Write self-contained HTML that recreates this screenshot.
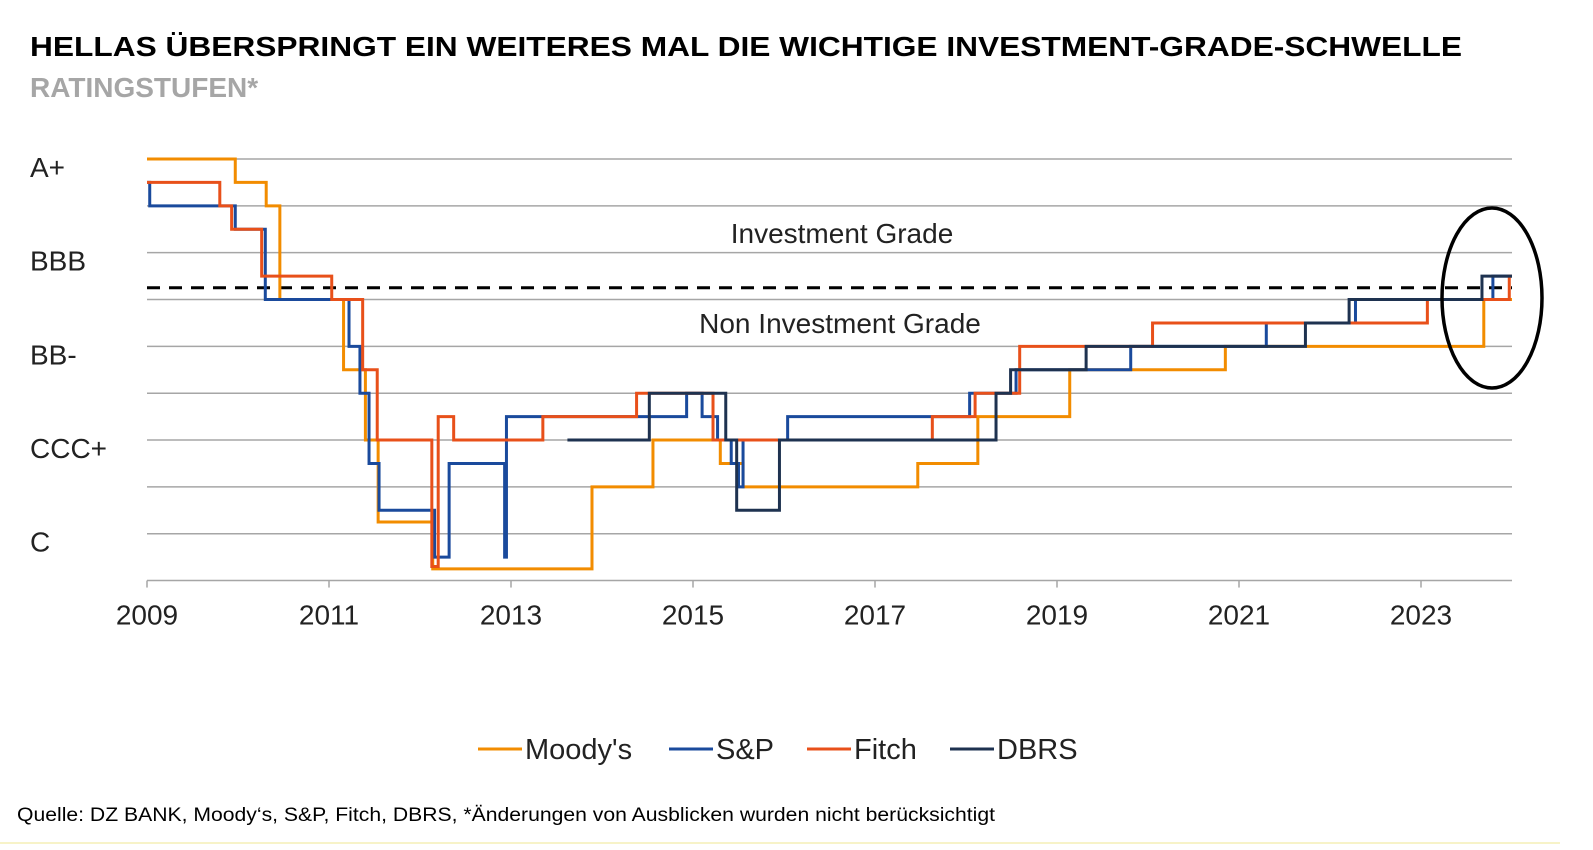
<!DOCTYPE html>
<html><head><meta charset="utf-8"><style>
body{margin:0;background:#fff;width:1593px;height:845px;overflow:hidden;font-family:"Liberation Sans",Arial,sans-serif}
</style></head><body>
<svg width="1593" height="845" xmlns="http://www.w3.org/2000/svg" style="font-family:'Liberation Sans',Arial,sans-serif">
<text x="30" y="56" font-size="28" font-weight="bold" fill="#000" textLength="1432" lengthAdjust="spacingAndGlyphs">HELLAS ÜBERSPRINGT EIN WEITERES MAL DIE WICHTIGE INVESTMENT-GRADE-SCHWELLE</text>
<text x="30" y="97" font-size="28" font-weight="bold" fill="#a6a6a6">RATINGSTUFEN*</text>
<g id="grid"></g>
<g id="ylabels"></g>
<g id="xaxis"></g>
<line id="thresh" stroke="#000" stroke-width="3" stroke-dasharray="13,9"/>
<text x="842" y="243" font-size="28" text-anchor="middle" fill="#222">Investment Grade</text>
<text x="840" y="333" font-size="28" text-anchor="middle" fill="#222">Non Investment Grade</text>
<g id="series"></g>
<ellipse cx="1492" cy="298" rx="50" ry="90" fill="none" stroke="#000" stroke-width="3.5"/>
<g>
<line x1="478" y1="749" x2="522" y2="749" stroke="#f28c00" stroke-width="3"/>
<text x="525" y="759" font-size="29" fill="#222">Moody's</text>
<line x1="669" y1="749" x2="713" y2="749" stroke="#1a4a9c" stroke-width="3"/>
<text x="716" y="759" font-size="29" fill="#222">S&amp;P</text>
<line x1="807" y1="749" x2="851" y2="749" stroke="#e8501a" stroke-width="3"/>
<text x="854" y="759" font-size="29" fill="#222">Fitch</text>
<line x1="950" y1="749" x2="994" y2="749" stroke="#1e3250" stroke-width="3"/>
<text x="997" y="759" font-size="29" fill="#222">DBRS</text>
</g>
<text x="17" y="821" font-size="19" fill="#000" textLength="978" lengthAdjust="spacingAndGlyphs">Quelle: DZ BANK, Moody‘s, S&amp;P, Fitch, DBRS, *Änderungen von Ausblicken wurden nicht berücksichtigt</text>
<line x1="0" y1="843" x2="1560" y2="843" stroke="#f7f3c8" stroke-width="2"/>
</svg>
<script>
const yearTicks = [2009, 2011, 2013, 2015, 2017, 2019, 2021, 2023];
const levelLabels = ["A+", "BBB", "BB-", "CCC+", "C"];
const levelLabelValues = [0, 4, 8, 12, 16];
const thresholdLevel = 5.5;
const moodysDates = [2009.0, 2009.97, 2010.31, 2010.46, 2011.16, 2011.40, 2011.54, 2012.14, 2013.89, 2014.56, 2015.30, 2015.55, 2017.47, 2018.13, 2019.14, 2020.85, 2023.69];
const moodysLevels = [0, 1, 2, 6, 9, 12, 15.5, 17.5, 14, 12, 13, 14, 13, 11, 9, 8, 6];
const spDates = [2009.0, 2009.03, 2009.97, 2010.30, 2011.22, 2011.34, 2011.44, 2011.55, 2012.16, 2012.32, 2012.93, 2012.95, 2014.93, 2015.10, 2015.27, 2015.42, 2015.50, 2015.55, 2016.04, 2018.04, 2018.55, 2019.81, 2021.30, 2022.28, 2023.79];
const spLevels = [1, 2, 3, 6, 8, 10, 13, 15, 17, 13, 17, 11, 10, 11, 12, 13, 14, 12, 11, 10, 9, 8, 7, 6, 5];
const fitchDates = [2009.0, 2009.80, 2009.93, 2010.26, 2011.03, 2011.37, 2011.53, 2012.13, 2012.20, 2012.37, 2013.35, 2014.38, 2015.22, 2017.63, 2018.10, 2018.59, 2020.05, 2023.07, 2023.97];
const fitchLevels = [1, 2, 3, 5, 6, 9, 12, 17.4, 11, 12, 11, 10, 12, 11, 10, 8, 7, 6, 5];
const dbrsDates = [2013.62, 2014.52, 2015.36, 2015.48, 2015.95, 2018.33, 2018.49, 2019.32, 2021.73, 2022.21, 2023.67];
const dbrsLevels = [12, 10, 12, 15, 12, 10, 9, 8, 7, 6, 5];

const NS = "http://www.w3.org/2000/svg";
const X0 = 147, PXY = 91, XEND = 2024.0, Y0 = 159, PXL = 23.42;
function xs(yr){ return X0 + (yr - 2009) * PXY; }
function ys(l){ return Y0 + l * PXL; }
function mk(tag, attrs, parent){ const e = document.createElementNS(NS, tag); for (const k in attrs) e.setAttribute(k, attrs[k]); parent.appendChild(e); return e; }

const grid = document.getElementById('grid');
for (let l = 0; l <= 16; l += 2) {
  const g = mk('line', {x1: xs(2009), x2: xs(XEND), y1: ys(l), y2: ys(l), stroke: '#a6a6a6', 'stroke-width': 1.5}, grid);
  
  
}
const yl = document.getElementById('ylabels');
levelLabels.forEach((t, i) => {
  const e = mk('text', {x: 30, y: ys(levelLabelValues[i]) + 18, 'font-size': 28, fill: '#222'}, yl);
  e.textContent = t;
  
  
});
const xa = document.getElementById('xaxis');
const ax = mk('line', {x1: xs(2009), x2: xs(XEND), y1: ys(18), y2: ys(18), stroke: '#a6a6a6', 'stroke-width': 1.5}, xa);


yearTicks.forEach(yr => {
  const t = mk('line', {x1: xs(yr), x2: xs(yr), y1: ys(18), y2: ys(18) + 7, stroke: '#a6a6a6', 'stroke-width': 1.5}, xa);
  
  
  const e = mk('text', {x: xs(yr), y: ys(18) + 44, 'font-size': 28, fill: '#222', 'text-anchor': 'middle'}, xa);
  e.textContent = yr;
  
  
});
const th = document.getElementById('thresh');
th.setAttribute('x1', xs(2009)); th.setAttribute('x2', xs(XEND));
th.setAttribute('y1', ys(thresholdLevel)); th.setAttribute('y2', ys(thresholdLevel));

const sg = document.getElementById('series');
function step(dates, levels, color, name){
  let d = 'M' + xs(dates[0]) + ',' + ys(levels[0]);
  for (let i = 1; i < dates.length; i++) d += ' H' + xs(dates[i]) + ' V' + ys(levels[i]);
  d += ' H' + xs(XEND);
  const p = mk('path', {d: d, fill: 'none', stroke: color, 'stroke-width': 3}, sg);
  
  
}
step(moodysDates, moodysLevels, '#f28c00', 'moodys-line');
step(spDates, spLevels, '#1a4a9c', 'sp-line');
step(fitchDates, fitchLevels, '#e8501a', 'fitch-line');
step(dbrsDates, dbrsLevels, '#1e3250', 'dbrs-line');
</script>
</body></html>
